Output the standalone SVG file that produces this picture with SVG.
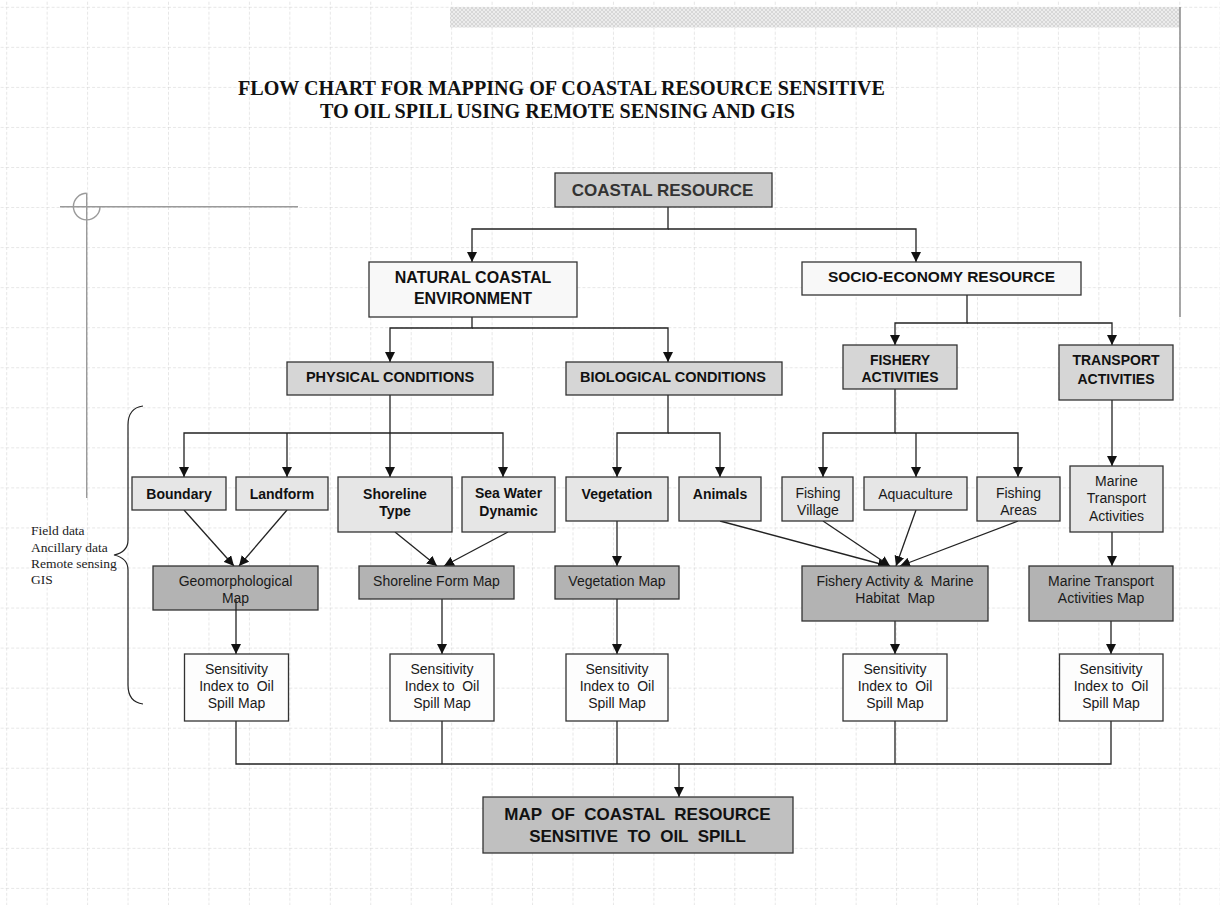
<svg xmlns="http://www.w3.org/2000/svg" width="1220" height="905" viewBox="0 0 1220 905">
<defs>
<pattern id="grid" width="40.45" height="40.05" patternUnits="userSpaceOnUse" x="6.2" y="6.8">
<path d="M0,0 V40.05" stroke="#cdcdcd" stroke-width="1" stroke-dasharray="3,2" fill="none"/>
<path d="M0,0 H40.45" stroke="#cdcdcd" stroke-width="1" stroke-dasharray="3,2" fill="none"/>
</pattern>
<pattern id="hatch" width="4" height="4" patternUnits="userSpaceOnUse">
<rect width="4" height="4" fill="#ececec"/>
<path d="M0,0 L4,4 M4,0 L0,4" stroke="#d2d2d2" stroke-width="0.8"/>
</pattern>
<marker id="arr" markerWidth="10" markerHeight="10" refX="10" refY="5" orient="auto" markerUnits="userSpaceOnUse">
<path d="M0,0 L10,5 L0,10 z" fill="#111"/>
</marker>
<style>
.box{stroke:#333;stroke-width:1.3}
.l0{fill:#f8f8f8}
.l1{fill:#d6d6d6}
.l2{fill:#e6e6e6}
.l3{fill:#b3b3b3}
.l4{fill:#fdfdfd}
.b{font-family:"Liberation Sans",Arial,sans-serif;font-weight:bold;fill:#111;text-anchor:middle}
.n{font-family:"Liberation Sans",Arial,sans-serif;font-size:14px;fill:#1a1a1a;text-anchor:middle}
.con{fill:none;stroke:#222;stroke-width:1.3}
.ar{marker-end:url(#arr)}
</style>
</defs>
<rect width="1220" height="905" fill="#ffffff"/>
<rect width="1220" height="905" fill="url(#grid)"/>
<rect x="450" y="7" width="730" height="20.5" fill="url(#hatch)"/>
<line x1="1180" y1="7" x2="1180" y2="317" stroke="#8a8a8a" stroke-width="1.5"/>
<g id="crosshair" fill="none" stroke="#9a9a9a" stroke-width="1.4">
<line x1="60" y1="206.7" x2="298" y2="206.7"/>
<line x1="86.7" y1="193.3" x2="86.7" y2="498"/>
<path d="M86.7,193.3 A13.3,13.3 0 1 0 100,206.7"/>
</g>
<g id="title" font-family="'Liberation Serif','Times New Roman',serif" font-weight="bold" font-size="20" fill="#111">
<text x="238" y="95" textLength="647" lengthAdjust="spacingAndGlyphs">FLOW CHART FOR MAPPING OF COASTAL RESOURCE SENSITIVE</text>
<text x="320" y="117.5" textLength="475" lengthAdjust="spacingAndGlyphs">TO OIL SPILL USING REMOTE SENSING AND GIS</text>
</g>
<g id="brace">
<path d="M143,406 Q128,408 128,425 L128,540 Q128,552 114,555 Q128,558 128,570 L128,685 Q128,702 143,704" fill="none" stroke="#222" stroke-width="1.2"/>
<g font-family="'Liberation Serif','Times New Roman',serif" font-size="13.5" fill="#222">
<text x="31" y="535">Field data</text>
<text x="31" y="551.5">Ancillary data</text>
<text x="31" y="567.5">Remote sensing</text>
<text x="31" y="583.5">GIS</text>
</g>
</g>
<g id="connectors">
<path class="con ar" d="M668,207 V229 H472 V262"/>
<path class="con ar" d="M668,229 H916 V262"/>
<path class="con ar" d="M472,317 V328 H390 V362"/>
<path class="con ar" d="M472,328 H668 V362"/>
<path class="con ar" d="M967,295 V323 H895 V345"/>
<path class="con ar" d="M967,323 H1112 V345"/>
<path class="con ar" d="M390,395 V477"/>
<path class="con ar" d="M390,433 H184 V477"/>
<path class="con ar" d="M287,433 V477"/>
<path class="con ar" d="M390,433 H503 V477"/>
<path class="con ar" d="M668,395 V433 H617 V477"/>
<path class="con ar" d="M668,433 H720 V477"/>
<path class="con ar" d="M895,389 V433 H823 V477"/>
<path class="con ar" d="M916,433 V477"/>
<path class="con ar" d="M895,433 H1018 V477"/>
<path class="con ar" d="M1112,400 V466"/>
<path class="con ar" d="M184,510 L234,566"/>
<path class="con ar" d="M287,510 L239,566"/>
<path class="con ar" d="M395,532 L437,566"/>
<path class="con ar" d="M508,532 L444,566"/>
<path class="con ar" d="M617,521 V566"/>
<path class="con ar" d="M720,521 L888,566"/>
<path class="con ar" d="M823,521 L890,566"/>
<path class="con ar" d="M916,510 L896,566"/>
<path class="con ar" d="M1018,521 L900,566"/>
<path class="con ar" d="M1112,532 V566"/>
<path class="con ar" d="M442,599 V654"/>
<path class="con ar" d="M617,599 V654"/>
<path class="con ar" d="M895,621 V654"/>
<path class="con ar" d="M1111,621 V654"/>
<path class="con" d="M236,721 V764 H1111 V721"/>
<path class="con" d="M442,721 V764"/>
<path class="con" d="M617,721 V764"/>
<path class="con" d="M895,721 V764"/>
<path class="con ar" d="M679,764 V797"/>
</g>
<g id="coastal-resource"><rect class="box" x="555" y="173" width="217" height="34" fill="#cccccc"/><text class="b" x="662.5" y="196" font-size="17" style="fill:#333">COASTAL RESOURCE</text></g>
<g id="natural"><rect class="box l0" x="369" y="262" width="208" height="55"/><text class="b" x="473" y="282.5" font-size="16">NATURAL COASTAL</text><text class="b" x="473" y="303.5" font-size="16">ENVIRONMENT</text></g>
<g id="socio"><rect class="box l0" x="802" y="262" width="279" height="33"/><text class="b" x="941.5" y="281.5" font-size="15.5">SOCIO-ECONOMY RESOURCE</text></g>
<g id="physical"><rect class="box l1" x="287" y="362" width="206" height="33"/><text class="b" x="390" y="382" font-size="14.5">PHYSICAL CONDITIONS</text></g>
<g id="biological"><rect class="box l1" x="566" y="362" width="216" height="33"/><text class="b" x="673" y="382" font-size="14.5">BIOLOGICAL CONDITIONS</text></g>
<g id="fishery"><rect class="box l1" x="843" y="345" width="114" height="44"/><text class="b" x="900" y="365" font-size="14">FISHERY</text><text class="b" x="900" y="382" font-size="14">ACTIVITIES</text></g>
<g id="transport"><rect class="box l1" x="1059" y="345" width="114" height="55"/><text class="b" x="1116" y="365" font-size="14">TRANSPORT</text><text class="b" x="1116" y="384" font-size="14">ACTIVITIES</text></g>
<g id="boundary"><rect class="box l2" x="132" y="477" width="94" height="33"/><text class="b" x="179" y="499" font-size="14">Boundary</text></g>
<g id="landform"><rect class="box l2" x="236" y="477" width="92" height="33"/><text class="b" x="282" y="499" font-size="14">Landform</text></g>
<g id="shoreline-type"><rect class="box l2" x="338" y="477" width="114" height="55"/><text class="b" x="395" y="499" font-size="14">Shoreline</text><text class="b" x="395" y="516" font-size="14">Type</text></g>
<g id="sea-water"><rect class="box l2" x="462" y="477" width="93" height="55"/><text class="b" x="508.5" y="498" font-size="14">Sea Water</text><text class="b" x="508.5" y="516" font-size="14">Dynamic</text></g>
<g id="vegetation"><rect class="box l2" x="566" y="477" width="102" height="44"/><text class="b" x="617" y="499" font-size="14">Vegetation</text></g>
<g id="animals"><rect class="box l2" x="679" y="477" width="82" height="44"/><text class="b" x="720" y="499" font-size="14">Animals</text></g>
<g id="fishing-village"><rect class="box l2" x="782" y="477" width="71" height="44"/><text class="n" x="818" y="498">Fishing</text><text class="n" x="818" y="515">Village</text></g>
<g id="aquaculture"><rect class="box l2" x="864" y="477" width="103" height="33"/><text class="n" x="915.5" y="499">Aquaculture</text></g>
<g id="fishing-areas"><rect class="box l2" x="977" y="477" width="83" height="44"/><text class="n" x="1018.5" y="498">Fishing</text><text class="n" x="1018.5" y="515">Areas</text></g>
<g id="marine-transport"><rect class="box l2" x="1070" y="466" width="93" height="66"/><text class="n" x="1116.5" y="486">Marine</text><text class="n" x="1116.5" y="503">Transport</text><text class="n" x="1116.5" y="520.5">Activities</text></g>
<g id="geomorph-map"><rect class="box l3" x="153" y="566" width="165" height="44"/><text class="n" x="235.5" y="586">Geomorphological</text><text class="n" x="235.5" y="603">Map</text></g>
<g id="shoreline-map"><rect class="box l3" x="359" y="566" width="155" height="33"/><text class="n" x="436.5" y="586">Shoreline Form Map</text></g>
<g id="vegetation-map"><rect class="box l3" x="555" y="566" width="124" height="33"/><text class="n" x="617" y="586">Vegetation Map</text></g>
<g id="fishery-map"><rect class="box l3" x="802" y="566" width="186" height="55"/><text class="n" x="895" y="586" xml:space="preserve">Fishery Activity &amp;  Marine</text><text class="n" x="895" y="603" xml:space="preserve">Habitat  Map</text></g>
<g id="marine-map"><rect class="box l3" x="1029" y="566" width="144" height="55"/><text class="n" x="1101" y="586">Marine Transport</text><text class="n" x="1101" y="603">Activities Map</text></g>
<path class="con ar" d="M236,600 V654"/>
<g id="sens-1"><rect class="box l4" x="184.5" y="654" width="104" height="67"/><text class="n" x="236.5" y="674">Sensitivity</text><text class="n" x="236.5" y="691" xml:space="preserve">Index to  Oil</text><text class="n" x="236.5" y="708">Spill Map</text></g>
<g id="sens-2"><rect class="box l4" x="390" y="654" width="104" height="67"/><text class="n" x="442" y="674">Sensitivity</text><text class="n" x="442" y="691" xml:space="preserve">Index to  Oil</text><text class="n" x="442" y="708">Spill Map</text></g>
<g id="sens-3"><rect class="box l4" x="566" y="654" width="102" height="67"/><text class="n" x="617" y="674">Sensitivity</text><text class="n" x="617" y="691" xml:space="preserve">Index to  Oil</text><text class="n" x="617" y="708">Spill Map</text></g>
<g id="sens-4"><rect class="box l4" x="843" y="654" width="104" height="67"/><text class="n" x="895" y="674">Sensitivity</text><text class="n" x="895" y="691" xml:space="preserve">Index to  Oil</text><text class="n" x="895" y="708">Spill Map</text></g>
<g id="sens-5"><rect class="box l4" x="1059.5" y="654" width="103.5" height="67"/><text class="n" x="1111" y="674">Sensitivity</text><text class="n" x="1111" y="691" xml:space="preserve">Index to  Oil</text><text class="n" x="1111" y="708">Spill Map</text></g>
<g id="final-map"><rect class="box" x="483" y="797" width="310" height="56" fill="#c0c0c0"/><text class="b" x="637.5" y="820" font-size="17" xml:space="preserve">MAP  OF  COASTAL  RESOURCE</text><text class="b" x="637.5" y="842" font-size="17" xml:space="preserve">SENSITIVE  TO  OIL  SPILL</text></g>
</svg>
